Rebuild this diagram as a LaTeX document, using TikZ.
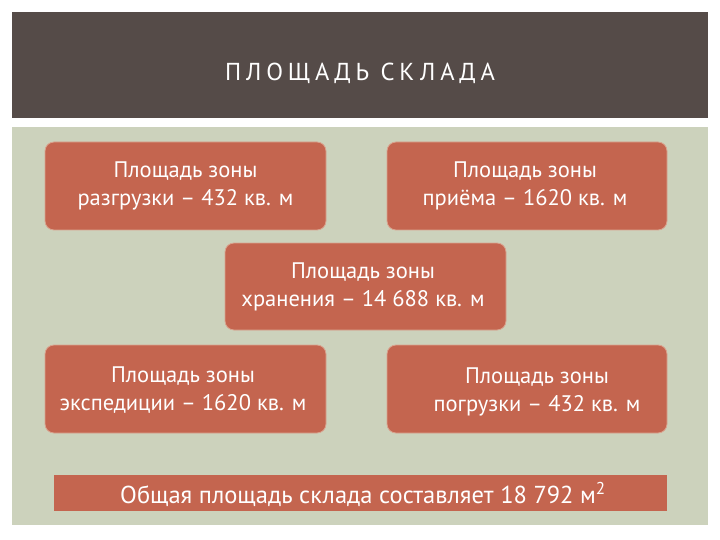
\documentclass[tikz,border=0pt]{standalone}
\usepackage{fontspec}
\setmainfont{PT Sans}
\newfontfamily\titlefont[LetterSpace=20]{PT Sans}
\definecolor{hdr}{HTML}{554B48}
\definecolor{panel}{HTML}{CCD2BC}
\definecolor{boxc}{HTML}{C4654F}
\definecolor{boxedge}{HTML}{D9A48F}
\tikzset{
  zone/.style={fill=boxc, draw=boxedge, line width=0.8pt, rounded corners=9pt},
  zonetext/.style={text=white, align=center, font=\fontsize{22.5}{28}\selectfont, inner sep=0pt},
}
\begin{document}
\begin{tikzpicture}[x=1pt,y=-1pt]
\useasboundingbox (0,0) rectangle (720,540);
\fill[white] (0,0) rectangle (720,540);
\fill[hdr] (12,12) rectangle (708,118);
\node[text=white, font=\titlefont\fontsize{24.5}{26}\selectfont] (title) at (360,73) {ПЛОЩАДЬ СКЛАДА};
\fill[panel] (12,127) rectangle (708,525);
\draw[zone] (45,142) rectangle (326,230);
\node[zonetext] (z1) at (185.5,186) {Площадь зоны\\разгрузки – 432 кв. м};
\draw[zone] (387,142) rectangle (667,230);
\node[zonetext] (z2) at (525,186) {Площадь зоны\\приёма – 1620 кв. м};
\draw[zone] (225,243) rectangle (506,330);
\node[zonetext] (z3) at (363,287) {Площадь зоны\\хранения – 14 688 кв. м};
\draw[zone] (45,345) rectangle (326,433);
\node[zonetext] (z4) at (183,390) {Площадь зоны\\экспедиции – 1620 кв. м};
\draw[zone] (387,345) rectangle (667,433);
\node[zonetext] (z5) at (537,392) {Площадь зоны\\погрузки – 432 кв. м};
\fill[boxc] (54,475) rectangle (667,511);
\node[text=white, font=\fontsize{24.5}{26}\selectfont] (total) at (363,494) {Общая площадь склада составляет 18 792 м\textsuperscript{2}};
\end{tikzpicture}
\end{document}
